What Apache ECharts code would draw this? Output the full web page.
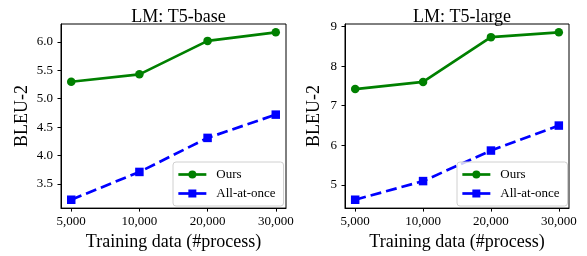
<!DOCTYPE html>
<html>
<head>
<meta charset="utf-8">
<script src="https://cdn.jsdelivr.net/npm/echarts@6/dist/echarts.min.js"></script>
<style>html,body{margin:0;padding:0;background:#fff}#c{width:587px;height:256px}</style>
</head>
<body>
<div id="c"></div>
<script>
var categories = ['5,000', '10,000', '20,000', '30,000'];
var baseOurs = [5.30, 5.43, 6.02, 6.17];
var baseAll = [3.22, 3.71, 4.31, 4.72];
var largeOurs = [7.42, 7.60, 8.73, 8.85];
var largeAll = [4.63, 5.10, 5.87, 6.50];
var baseTicks = [3.5, 4.0, 4.5, 5.0, 5.5, 6.0];
var largeTicks = [5, 6, 7, 8, 9];
var titles = ['LM: T5-base', 'LM: T5-large'];
var seriesNames = ['Ours', 'All-at-once'];

var FONT = 'Liberation Serif';
var idx = categories.map(function (_, i) { return i; });
function pts(arr) { return arr.map(function (v, i) { return [i, v]; }); }
function range(a, b) {
  var all = a.concat(b);
  var mn = Math.min.apply(null, all), mx = Math.max.apply(null, all);
  var m = (mx - mn) * 0.05;
  return [mn - m, mx + m];
}
var rBase = range(baseOurs, baseAll);
var rLarge = range(largeOurs, largeAll);

var grids = [
  {left: 61, top: 24, width: 225, height: 186},
  {left: 345, top: 24, width: 224, height: 186}
];

function xAxis(gi) {
  return {
    type: 'value', gridIndex: gi, min: -0.15, max: 3.15,
    name: 'Training data (#process)', nameLocation: 'middle', nameGap: 23,
    nameTextStyle: {fontFamily: FONT, fontSize: 18, color: '#000'},
    axisLine: {show: true, onZero: false, lineStyle: {color: '#000', width: 1}},
    axisTick: {show: true, length: 3.5, customValues: idx, lineStyle: {color: '#000', width: 1}},
    axisLabel: {customValues: idx, margin: 7, fontFamily: FONT, fontSize: 13, color: '#000',
      formatter: function (v) { return categories[Math.round(v)]; }},
    splitLine: {show: false}
  };
}
function yAxis(gi, r, ticks, dec, gap) {
  return {
    type: 'value', gridIndex: gi, min: r[0], max: r[1],
    name: 'BLEU-2', nameLocation: 'middle', nameGap: gap,
    nameTextStyle: {fontFamily: FONT, fontSize: 18, color: '#000'},
    axisLine: {show: true, onZero: false, lineStyle: {color: '#000', width: 1}},
    axisTick: {show: true, length: 3.5, customValues: ticks, lineStyle: {color: '#000', width: 1}},
    axisLabel: {customValues: ticks, margin: 8, fontFamily: FONT, fontSize: 13, color: '#000',
      formatter: function (v) { return v.toFixed(dec); }},
    splitLine: {show: false}
  };
}
function ours(gi, arr) {
  return {name: seriesNames[0], type: 'line', xAxisIndex: gi, yAxisIndex: gi, data: pts(arr),
    symbol: 'circle', symbolSize: 8.5, color: '#008000',
    lineStyle: {color: '#008000', width: 2.7}, itemStyle: {color: '#008000'}, z: 3, animation: false};
}
function allAt(gi, arr) {
  return {name: seriesNames[1], type: 'line', xAxisIndex: gi, yAxisIndex: gi, data: pts(arr),
    symbol: 'rect', symbolSize: 8.5, color: '#0000ff',
    lineStyle: {color: '#0000ff', width: 2.7, type: [11, 5]}, itemStyle: {color: '#0000ff'}, z: 2, animation: false};
}
function legend(left) {
  return {
    data: seriesNames, orient: 'vertical', left: left, top: 162,
    itemWidth: 28, itemHeight: 10, itemGap: 6,
    padding: [6, 8, 6, 4],
    backgroundColor: 'rgba(255,255,255,0.8)', borderColor: '#d0d0d0', borderWidth: 1, borderRadius: 3,
    lineStyle: {type: 'solid', width: 2.7},
    textStyle: {fontFamily: FONT, fontSize: 13, color: '#000', padding: [0, 0, 0, 5]},
    selectedMode: false
  };
}

var chart = echarts.init(document.getElementById('c'), null, {renderer: 'canvas'});
chart.setOption({
  animation: false,
  backgroundColor: '#fff',
  title: [
    {text: titles[0], left: 173.5, top: 3, textAlign: 'center', textStyle: {fontFamily: FONT, fontSize: 18, fontWeight: 'normal', color: '#000'}},
    {text: titles[1], left: 457, top: 3, textAlign: 'center', textStyle: {fontFamily: FONT, fontSize: 18, fontWeight: 'normal', color: '#000'}}
  ],
  grid: grids.map(function (g) {
    return Object.assign({show: true, borderColor: '#000', borderWidth: 1, backgroundColor: 'transparent'}, g);
  }),
  legend: [legend(173), legend(457)],
  xAxis: [xAxis(0), xAxis(1)],
  yAxis: [yAxis(0, rBase, baseTicks, 1, 30), yAxis(1, rLarge, largeTicks, 0, 22)],
  series: [ours(0, baseOurs), allAt(0, baseAll), ours(1, largeOurs), allAt(1, largeAll)]
});
</script>
</body>
</html>
